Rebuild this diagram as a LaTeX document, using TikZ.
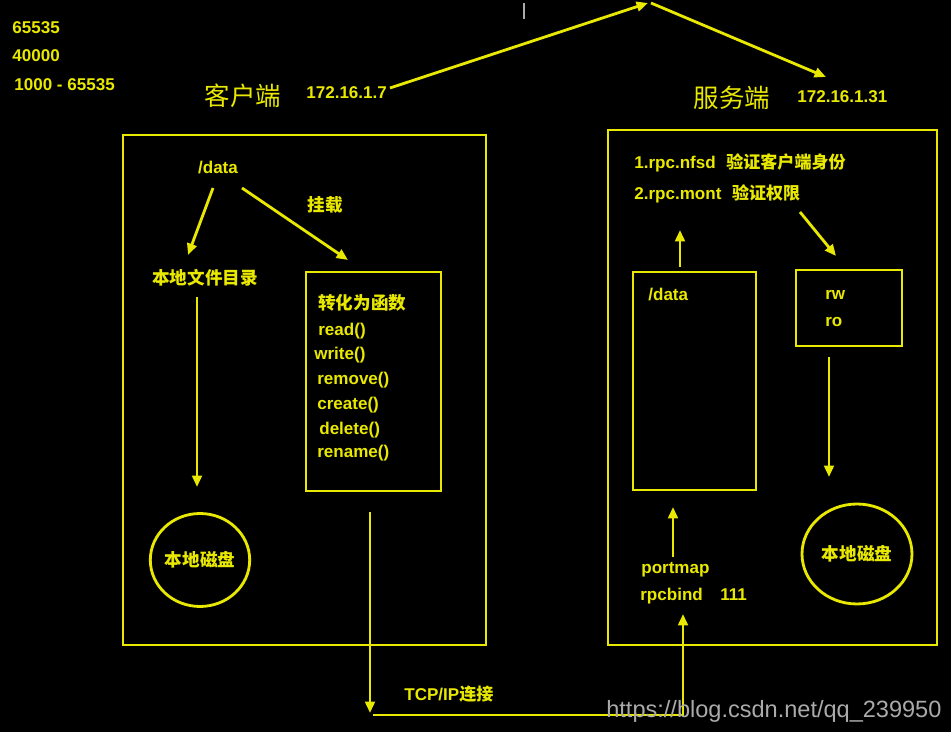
\documentclass[tikz,border=0pt]{standalone}
\usepackage{fontspec}
\setmainfont{Liberation Sans}
\newfontfamily\cjk{Noto Sans CJK SC}
\usetikzlibrary{arrows.meta,calc,shapes.geometric}
\definecolor{ylw}{RGB}{232,232,0}
\definecolor{wmgray}{RGB}{170,170,170}
\tikzset{
  line/.style={draw=ylw, line width=1.6pt},
  arr/.style={line, -{Triangle[length=6.5pt,width=5.5pt]}},
  lbl/.style={text=ylw, font=\fontsize{9.7}{11}\selectfont\bfseries, inner sep=0pt, anchor=west},
  zh/.style={text=ylw, font=\fontsize{10}{12}\selectfont\cjk\bfseries, inner sep=0pt},
  side/.style={text=ylw, font=\fontsize{14.5}{16}\selectfont\cjk, inner sep=0pt},
  disk/.style={line, ellipse, text=ylw, font=\fontsize{10}{12}\selectfont\cjk\bfseries, inner sep=0pt},
}

\begin{document}
\begin{tikzpicture}[x=0.02cm,y=-0.02cm]
  \fill[black] (0,0) rectangle (951,732);
  \useasboundingbox (0,0) rectangle (951,732);
  \clip (0,0) rectangle (951,732);

  % port numbers
  \node[lbl] (p1) at (12,28) {65535};
  \node[lbl] (p2) at (12,56) {40000};
  \node[lbl] (p3) at (14,85) {1000 - 65535};
  \draw[wmgray, line width=1.2pt] (524,3) -- (524,19);

  % the two hosts
  \node[side] (client) at (243,96) {客户端};
  \node[lbl] (cip) at (306,93) {172.16.1.7};
  \node[side] (server) at (732,98) {服务端};
  \node[lbl] (sip) at (797,97) {172.16.1.31};
  \coordinate (top) at (648,3);
  \coordinate (cipE) at (390,88); \coordinate (sipN) at (826,77);
  \draw[arr] (cipE) -- (top);
  \draw[arr] ($(top)+(3,0)$) -- (sipN);

  % client side
  \draw[line] (123,135) rectangle (486,645);
  \node[lbl, anchor=center] (cdata) at (218,168) {/data};
  \node[zh] (mount) at (325,205) {挂载};
  \node[zh] (localdir) at (205,278) {本地文件目录};
  \coordinate (a1) at (213,188); \coordinate (a2) at (188,255);
  \coordinate (b1) at (242,188); \coordinate (b2) at (348,260);
  \draw[arr] (a1) -- (a2);
  \draw[arr] (b1) -- (b2);
  \draw[arr] (197,297) -- (197,487);
  \node[disk, minimum width=1.9cm, minimum height=1.86cm] (diskL) at (200,560) {本地磁盘};

  \draw[line] (306,272) rectangle (441,491);
  \node[zh, anchor=west] (func) at (318,303) {转化为函数};
  \node[lbl] (f1) at (318,331) {read()};
  \node[lbl] (f2) at (314,355) {write()};
  \node[lbl] (f3) at (317,380) {remove()};
  \node[lbl] (f4) at (317,405) {create()};
  \node[lbl] (f5) at (319,430) {delete()};
  \node[lbl] (f6) at (317,453) {rename()};

  % server side
  \draw[line] (608,130) rectangle (937,645);
  \node[lbl] (nfsd) at (634,163) {1.rpc.nfsd\hspace{6pt}{\cjk 验证客户端身份}};
  \node[lbl] (mont) at (634,194) {2.rpc.mont\hspace{6pt}{\cjk 验证权限}};
  \draw[line] (633,272) rectangle (756,490);
  \node[lbl] (sdata) at (648,295) {/data};
  \draw[line] (796,270) rectangle (902,346);
  \node[lbl] (rw) at (825,295) {rw};
  \node[lbl] (ro) at (825,322) {ro};
  \draw[arr] (680,267) -- (680,230);
  \draw[arr] (800,212) -- (836,256);
  \draw[arr] (829,357) -- (829,477);
  \node[disk, minimum width=2.2cm, minimum height=2cm] (diskR) at (857,554) {本地磁盘};
  \draw[arr] (673,557) -- (673,507);
  \node[lbl] (pmap) at (641,570) {portmap};
  \node[lbl] (rpcb) at (640,596) {rpcbind\hspace{10pt}111};

  % TCP/IP link
  \coordinate (t1) at (370,512); \coordinate (t2) at (370,713);
  \coordinate (t3) at (373,715); \coordinate (t4) at (683,614);
  \draw[arr] (t1) -- (t2);
  \draw[arr] (t3) -| (t4);
  \node[lbl] (tcp) at (404,694) {TCP/IP{\cjk 连接}};

  \node[text=wmgray, font=\fontsize{13.4}{16}\selectfont, inner sep=0pt, anchor=west] (url) at (606,711) {https://blog.csdn.net/qq\_239950};
\end{tikzpicture}
\end{document}
